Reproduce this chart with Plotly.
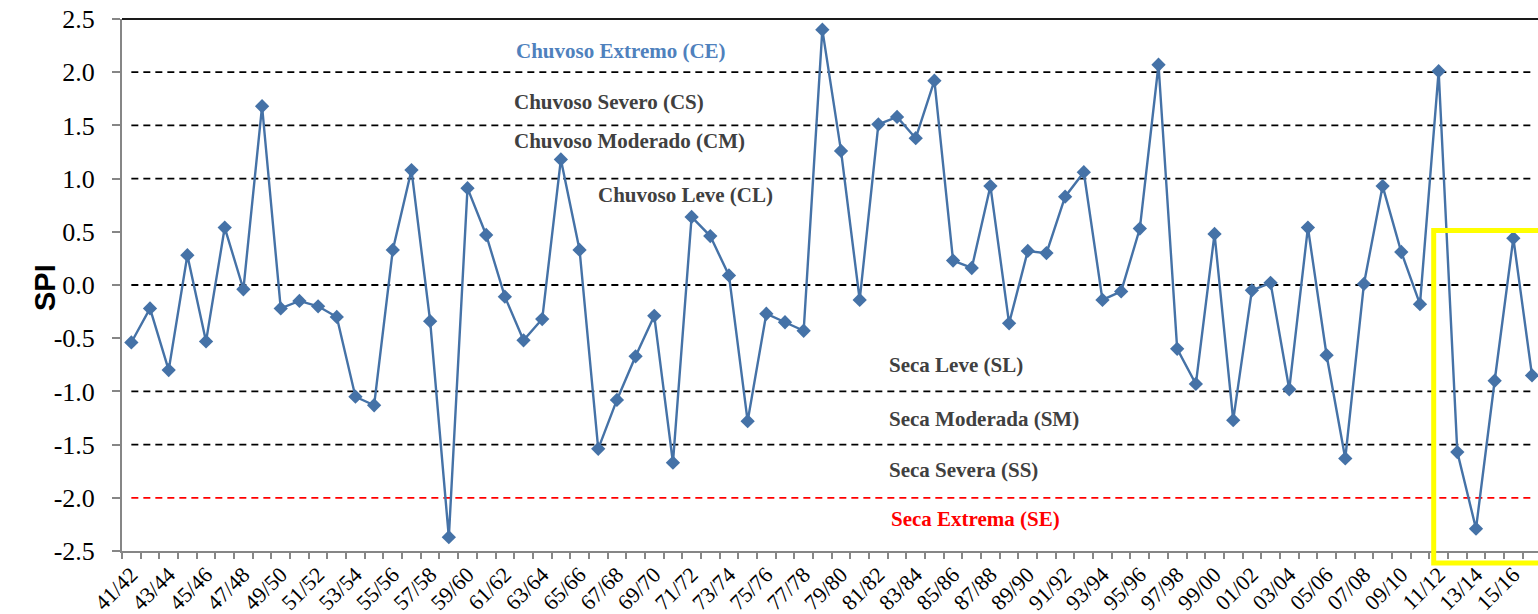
import plotly.graph_objects as go

seasons = ["41/42","42/43","43/44","44/45","45/46","46/47","47/48","48/49","49/50","50/51",
           "51/52","52/53","53/54","54/55","55/56","56/57","57/58","58/59","59/60","60/61",
           "61/62","62/63","63/64","64/65","65/66","66/67","67/68","68/69","69/70","70/71",
           "71/72","72/73","73/74","74/75","75/76","76/77","77/78","78/79","79/80","80/81",
           "81/82","82/83","83/84","84/85","85/86","86/87","87/88","88/89","89/90","90/91",
           "91/92","92/93","93/94","94/95","95/96","96/97","97/98","98/99","99/00","00/01",
           "01/02","02/03","03/04","04/05","05/06","06/07","07/08","08/09","09/10","10/11",
           "11/12","12/13","13/14","14/15","15/16","16/17"]

spi = [-0.54, -0.22, -0.80, 0.28, -0.53, 0.54, -0.04, 1.68, -0.22, -0.15,
       -0.20, -0.30, -1.05, -1.13, 0.33, 1.08, -0.34, -2.37, 0.91, 0.47,
       -0.11, -0.52, -0.32, 1.18, 0.33, -1.54, -1.08, -0.67, -0.29, -1.67,
       0.64, 0.46, 0.09, -1.28, -0.27, -0.35, -0.43, 2.40, 1.26, -0.14,
       1.51, 1.58, 1.38, 1.92, 0.23, 0.16, 0.93, -0.36, 0.32, 0.30,
       0.83, 1.06, -0.14, -0.06, 0.53, 2.07, -0.60, -0.93, 0.48, -1.27,
       -0.05, 0.02, -0.98, 0.54, -0.66, -1.63, 0.01, 0.93, 0.31, -0.18,
       2.01, -1.57, -2.29, -0.90, 0.44, -0.85]

thresholds_black = [2.0, 1.5, 1.0, 0.0, -1.0, -1.5]
thresholds_red = [-2.0]

ytick_vals = [2.5, 2.0, 1.5, 1.0, 0.5, 0.0, -0.5, -1.0, -1.5, -2.0, -2.5]
ytick_text = ["2.5", "2.0", "1.5", "1.0", "0.5", "0.0", "-0.5", "-1.0", "-1.5", "-2.0", "-2.5"]

class_labels = ["Chuvoso Extremo (CE)", "Chuvoso Severo (CS)", "Chuvoso Moderado (CM)",
                "Chuvoso Leve (CL)", "Seca Leve (SL)", "Seca Moderada (SM)",
                "Seca Severa (SS)", "Seca Extrema (SE)"]
label_x = [20.48, 20.37, 20.37, 24.87, 40.44, 40.44, 40.44, 40.55]
label_y = [2.20, 1.72, 1.354, 0.847, -0.75, -1.262, -1.74, -2.20]
label_color = ["#4F81BD", "#404040", "#404040", "#404040", "#404040", "#404040", "#404040", "#FF0000"]

SERIF = "Liberation Serif, Times New Roman, serif"

idx = list(range(len(seasons)))

# body margin is removed via post_script; plot area at page px (122,19)-(1538,551)
PX0, PY0, PX1, PY1 = 122, 19, 1538, 551
pw, ph = PX1 - PX0, PY1 - PY0
W, H = 1538, 614
L, T = PX0, PY0
R = W - L - pw
B = H - T - ph

def px(xp):
    return (xp - PX0) / pw

def py(yp):
    return (PY1 - yp) / ph

fig = go.Figure()

for t in thresholds_black:
    fig.add_trace(go.Scatter(x=[idx[0], idx[-1]], y=[t, t], mode="lines",
                             line=dict(color="black", width=1.8, dash="7px,5px"),
                             hoverinfo="skip", showlegend=False))
for t in thresholds_red:
    fig.add_trace(go.Scatter(x=[idx[0], idx[-1]], y=[t, t], mode="lines",
                             line=dict(color="#FF0000", width=1.8, dash="7px,5px"),
                             hoverinfo="skip", showlegend=False))

fig.add_trace(go.Scatter(x=idx, y=spi, mode="lines+markers",
                         line=dict(color="#4572A7", width=2.4),
                         marker=dict(symbol="diamond", size=11, color="#4572A7"),
                         showlegend=False, cliponaxis=False))

for txt, lx, ly, c in zip(class_labels, label_x, label_y, label_color):
    fig.add_annotation(x=lx, y=ly, xref="x", yref="y", text="<b>" + txt + "</b>",
                       showarrow=False, xanchor="left", yanchor="middle",
                       font=dict(family=SERIF, size=21, color=c))

fig.add_annotation(x=px(27), y=py(287), xref="paper", yref="paper",
                   text="<b>SPI</b>", showarrow=False, textangle=-90,
                   font=dict(family="Liberation Sans, Arial, sans-serif", size=29, color="black"))

# top border
fig.add_shape(type="line", xref="paper", yref="paper", x0=0, x1=1, y0=1, y1=1,
              line=dict(color="#1a1a1a", width=2))
# yellow highlight box
fig.add_shape(type="rect", xref="paper", yref="paper",
              x0=px(1433.7), x1=1.02, y0=py(563), y1=py(230.5),
              line=dict(color="#FFFF00", width=5), fillcolor="rgba(0,0,0,0)")

fig.update_layout(
    width=W, height=H,
    margin=dict(l=L, r=R, t=T, b=B, pad=0, autoexpand=False),
    paper_bgcolor="white", plot_bgcolor="white",
    xaxis=dict(range=[-0.5, 75.32], tickmode="array", tickvals=idx[::2],
               ticktext=seasons[::2], tickangle=-45, ticks="", automargin=False,
               ticklabeloverflow="allow",
               showgrid=False, zeroline=False, showline=True,
               linecolor="#868686", linewidth=2,
               tickfont=dict(family=SERIF, size=22, color="black"),
               minor=dict(tick0=-0.5, dtick=1, ticks="outside", ticklen=6,
                          tickcolor="#868686", tickwidth=1.5, showgrid=False)),
    yaxis=dict(range=[-2.5, 2.5], tickmode="array", automargin=False,
               tickvals=ytick_vals, ticktext=ytick_text,
               ticklabeloverflow="allow",
               ticks="outside", ticklen=8, tickcolor="#868686", tickwidth=1.5,
               ticklabelstandoff=12,
               showgrid=False, zeroline=False, showline=True,
               linecolor="#868686", linewidth=2,
               tickfont=dict(family=SERIF, size=26, color="black")),
)

fig.write_html("out.html",
               config={"displayModeBar": False},
               post_script="document.body.style.margin='0';document.body.style.overflow='hidden';")
